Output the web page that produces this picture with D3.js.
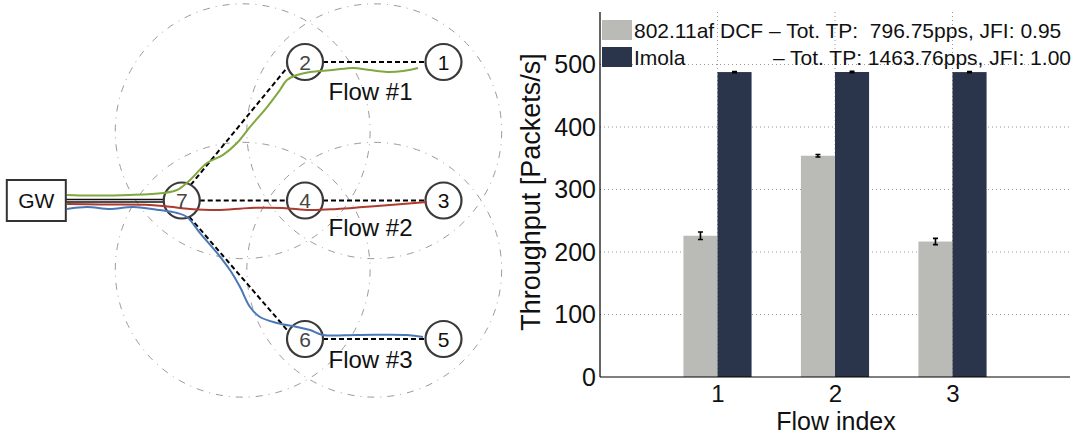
<!DOCTYPE html>
<html><head><meta charset="utf-8">
<script src="https://cdn.jsdelivr.net/npm/d3@7/dist/d3.min.js"></script>
<style>
body{margin:0;background:#fff}
svg{display:block;font-family:"Liberation Sans",Arial,Helvetica,sans-serif}
text{white-space:pre}
</style></head><body>
<svg id="fig" width="1079" height="435"></svg>
<script>
// ---------- network topology (grid units: one hop = 1) ----------
const nodeIds  = ["GW", "7", "2", "4", "6", "1", "3", "5"];
const nodeU    = [-1.94, -0.89, 0, 0, 0, 1, 1, 1];
const nodeV    = [0, 0, 1, 0, -1, 1, 0, -1];
const relayIds = ["7", "2", "4", "6"];

// wireless hops (dashed); optional anchor angles (deg) on the end circles
const linkFrom  = ["7", "7", "7", "2", "4", "6"];
const linkTo    = ["2", "4", "6", "1", "3", "5"];
const linkAngA  = [-60, null, 65, null, null, null];
const linkAngB  = [164, null, -156, null, null, null];

// interference ranges
const rangeU = [-0.45, 0.5, -0.45, 0.5];
const rangeV = [0.5, 0.5, -0.5, -0.5];
const rangeR = 0.92;

// traced flow routes
const flow1Route = [[-1.718,0.040],[-1.552,0.036],[-1.264,0.040],[-1.025,0.054],[-0.924,0.076],[-0.830,0.148],
  [-0.708,0.271],[-0.592,0.329],[-0.491,0.415],[-0.397,0.531],[-0.274,0.675],[-0.181,0.798],[-0.130,0.870],
  [-0.058,0.906],[0.036,0.928],[0.202,0.942],[0.347,0.957],[0.469,0.942],[0.592,0.928],[0.708,0.935],[0.816,0.957]];
const flow2Route = [[-1.718,-0.025],[-1.480,-0.029],[-1.119,-0.032],[-0.975,-0.045],[-0.830,-0.061],[-0.635,-0.069],
  [-0.397,-0.054],[-0.159,-0.054],[0.036,-0.069],[0.231,-0.061],[0.419,-0.047],[0.614,-0.032],[0.881,-0.011]];
const flow3Route = [[-1.718,-0.061],[-1.574,-0.047],[-1.408,-0.061],[-1.242,-0.047],[-1.047,-0.069],[-0.924,-0.090],
  [-0.852,-0.119],[-0.758,-0.235],[-0.635,-0.379],[-0.542,-0.502],[-0.469,-0.625],[-0.397,-0.769],[-0.325,-0.841],
  [-0.202,-0.884],[-0.058,-0.913],[0.036,-0.935],[0.130,-0.971],[0.375,-0.971],[0.736,-0.971],[0.852,-0.986]];
const backhaulV = [0.007, -0.011];
const flowLabels = ["Flow #1", "Flow #2", "Flow #3"];
const flowLabelU = [0.17, 0.17, 0.17];
const flowLabelV = [0.726, -0.256, -1.209];

// ---------- throughput per flow ----------
const categories  = [1, 2, 3];
const seriesNames = ["802.11af DCF", "Imola"];
const dcfValues   = [226, 354, 216.75];
const dcfErrors   = [6, 2, 5];
const imolaValues = [487.9, 488.0, 487.86];
const imolaErrors = [1, 1, 1];
const yTicks      = [0, 100, 200, 300, 400, 500];

const svg = d3.select("#fig");

// ================= topology diagram =================
const gx = d3.scaleLinear().domain([0, 1]).range([305, 443.5]);
const gy = d3.scaleLinear().domain([0, 1]).range([200.5, 62]);
const unit = gx(1) - gx(0);
const nodeR = 18;
const pos = {};
nodeIds.forEach((id, i) => pos[id] = [gx(nodeU[i]), gy(nodeV[i])]);

const net = svg.append("g");

net.selectAll("circle.range").data(rangeU).join("circle")
  .attr("class", "range")
  .attr("cx", (d) => gx(d)).attr("cy", (d, i) => gy(rangeV[i]))
  .attr("r", rangeR * unit)
  .attr("fill", "none").attr("stroke", "#8f8f8f").attr("stroke-width", 0.9)
  .attr("stroke-dasharray", "7,6,1,6");

// backhaul from gateway to first relay
const gwIdx = nodeIds.indexOf("GW");
net.selectAll("line.backhaul").data(backhaulV).join("line")
  .attr("x1", gx(nodeU[gwIdx]) + 29.5).attr("x2", pos["7"][0] - nodeR)
  .attr("y1", (d) => gy(d)).attr("y2", (d) => gy(d))
  .attr("stroke", "#111").attr("stroke-width", 1.6);

// dashed hops
function anchor(id, other, ang) {
  const [cx, cy] = pos[id];
  let a;
  if (ang === null) a = Math.atan2(pos[other][1] - cy, pos[other][0] - cx);
  else a = ang * Math.PI / 180;
  return [cx + nodeR * Math.cos(a), cy + nodeR * Math.sin(a)];
}
net.selectAll("line.hop").data(linkFrom).join("line")
  .each(function (d, i) {
    const a = anchor(d, linkTo[i], linkAngA[i]);
    const b = anchor(linkTo[i], d, linkAngB[i]);
    d3.select(this).attr("x1", a[0]).attr("y1", a[1]).attr("x2", b[0]).attr("y2", b[1]);
  })
  .attr("stroke", "#000").attr("stroke-width", 2).attr("stroke-dasharray", "5,3");

// nodes
net.selectAll("circle.node").data(nodeIds.filter((d) => d !== "GW")).join("circle")
  .attr("cx", (d) => pos[d][0]).attr("cy", (d) => pos[d][1]).attr("r", nodeR)
  .attr("fill", "none").attr("stroke", "#3a3a3a").attr("stroke-width", 2.2);

net.append("rect")
  .attr("x", pos["GW"][0] - 29.5).attr("y", pos["GW"][1] - 20.5)
  .attr("width", 59).attr("height", 41)
  .attr("fill", "#fff").attr("stroke", "#333").attr("stroke-width", 2);

// flow routes
const route = d3.line().x((d) => gx(d[0])).y((d) => gy(d[1])).curve(d3.curveCatmullRom.alpha(0.5));
const flowColors = ["#80a83f", "#ad3b30", "#4a78b6"];
net.selectAll("path.flow").data([flow1Route, flow2Route, flow3Route]).join("path")
  .attr("d", route).attr("fill", "none")
  .attr("stroke", (d, i) => flowColors[i]).attr("stroke-width", 2);

// labels
net.selectAll("text.node").data(nodeIds).join("text")
  .attr("x", (d) => pos[d][0]).attr("y", (d) => pos[d][1])
  .attr("dy", "0.36em").attr("text-anchor", "middle")
  .attr("font-size", 21)
  .attr("fill", (d) => relayIds.includes(d) ? "#454545" : "#111")
  .text((d) => d);

net.selectAll("text.flow").data(flowLabels).join("text")
  .attr("x", (d, i) => gx(flowLabelU[i])).attr("y", (d, i) => gy(flowLabelV[i]))
  .attr("font-size", 24).attr("fill", "#111").text((d) => d);

// ================= throughput bars =================
const x = d3.scaleLinear().domain([0, 4]).range([600, 1070]);
const y = d3.scaleLinear().domain([0, 584]).range([377, 12]);
const sub = d3.scaleBand().domain(seriesNames).range([-0.29, 0.29]);
const barColors = ["#babbb6", "#2a344b"];

const chart = svg.append("g");

// dotted grid
chart.selectAll("line.hg").data(yTicks.filter((d) => d > 0)).join("line")
  .attr("x1", x(0)).attr("x2", x(4)).attr("y1", (d) => y(d)).attr("y2", (d) => y(d))
  .attr("stroke", "#9a9a9a").attr("stroke-width", 1).attr("stroke-dasharray", "1,3");
chart.selectAll("line.vg").data(categories).join("line")
  .attr("x1", (d) => x(d)).attr("x2", (d) => x(d)).attr("y1", y(584)).attr("y2", y(0))
  .attr("stroke", "#9a9a9a").attr("stroke-width", 1).attr("stroke-dasharray", "1,3");

const series = [
  { name: seriesNames[0], values: dcfValues, errors: dcfErrors },
  { name: seriesNames[1], values: imolaValues, errors: imolaErrors }
];

series.forEach((s, si) => {
  const g = chart.append("g");
  g.selectAll("rect").data(categories).join("rect")
    .attr("x", (c) => x(c + sub(s.name)))
    .attr("width", x(sub.bandwidth()) - x(0))
    .attr("y", (c, i) => y(s.values[i]))
    .attr("height", (c, i) => y(0) - y(s.values[i]))
    .attr("fill", barColors[si]);
  const cx = (c) => x(c + sub(s.name) + sub.bandwidth() / 2);
  g.selectAll("path.err").data(categories).join("path")
    .attr("d", (c, i) => {
      const xc = cx(c), y1 = y(s.values[i] + s.errors[i]), y2 = y(s.values[i] - s.errors[i]);
      return `M${xc - 2.5},${y1}H${xc + 2.5}M${xc},${y1}V${y2}M${xc - 2.5},${y2}H${xc + 2.5}`;
    })
    .attr("stroke", "#000").attr("stroke-width", 1.6).attr("fill", "none");
});

// axes
chart.append("line").attr("x1", x(0)).attr("x2", x(0)).attr("y1", y(584)).attr("y2", y(0))
  .attr("stroke", "#000").attr("stroke-width", 1.2);
chart.append("line").attr("x1", x(0)).attr("x2", x(4)).attr("y1", y(0)).attr("y2", y(0))
  .attr("stroke", "#000").attr("stroke-width", 1.2);

const yAxis = chart.append("g").attr("transform", `translate(${x(0)},0)`)
  .call(d3.axisLeft(y).tickValues(yTicks).tickSize(0).tickPadding(4));
yAxis.select(".domain").remove();
yAxis.selectAll("text").attr("font-size", 25).attr("fill", "#111").attr("font-family", null);

const xAxis = chart.append("g").attr("transform", `translate(0,${y(0)})`)
  .call(d3.axisBottom(x).tickValues(categories).tickFormat(d3.format("d")).tickSize(0).tickPadding(8));
xAxis.select(".domain").remove();
xAxis.selectAll("text").attr("font-size", 24).attr("fill", "#111").attr("font-family", null)
  .attr("y", 7.5);

chart.append("text").attr("transform", "translate(540,192) rotate(-90)")
  .attr("text-anchor", "middle").attr("font-size", 27).attr("fill", "#111")
  .text("Throughput [Packets/s]");
chart.append("text").attr("x", 836).attr("y", 429.5)
  .attr("text-anchor", "middle").attr("font-size", 25).attr("fill", "#111")
  .text("Flow index");

// legend with total throughput and Jain's fairness index
const jfi = (v) => Math.pow(d3.sum(v), 2) / (v.length * d3.sum(v, (d) => d * d));
const fmt = d3.format(".2f");
const legend = chart.append("g");
series.forEach((s, si) => {
  const ly = 20 + si * 27;
  legend.append("rect").attr("x", 602).attr("y", ly).attr("width", 30).attr("height", 20)
    .attr("fill", barColors[si]);
  const tail = `– Tot. TP: ${si === 0 ? " " : ""}${fmt(d3.sum(s.values))}pps, JFI: ${fmt(jfi(s.values))}`;
  if (si === 0) {
    legend.append("text").attr("x", 634).attr("y", ly + 17.5).attr("font-size", 21).attr("fill", "#111")
      .text(`${s.name} ${tail}`);
  } else {
    legend.append("text").attr("x", 634).attr("y", ly + 17.5).attr("font-size", 21).attr("fill", "#111")
      .text(s.name);
    legend.append("text").attr("x", 1071).attr("y", ly + 17.5).attr("text-anchor", "end")
      .attr("font-size", 21).attr("fill", "#111").text(tail);
  }
});
</script>
</body></html>
